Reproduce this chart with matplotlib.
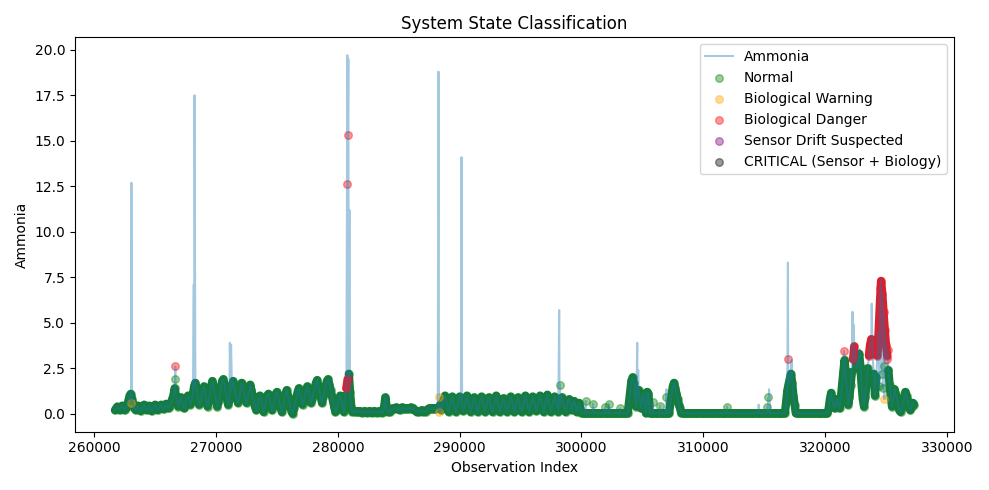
import numpy as np
import pandas as pd
import matplotlib.pyplot as plt

# ammonia readings sampled every 100 observations, starting at index 261700
base_start = 261700
base_step = 100
base_values = [
    0.2, 0.3, 0.4, 0.3, 0.2, 0.35, 0.45, 0.3, 0.2, 0.3, 0.45, 0.7, 1.0, 1.1, 0.8, 0.5, 0.3, 0.2, 0.35, 0.45,
    0.3, 0.15, 0.25, 0.4, 0.5, 0.35, 0.2, 0.3, 0.45, 0.3, 0.15, 0.25, 0.4, 0.5, 0.35, 0.2, 0.3, 0.45, 0.5, 0.35,
    0.25, 0.4, 0.55, 0.4, 0.3, 0.45, 0.6, 0.8, 1.0, 1.4, 1.0, 0.7, 0.4, 0.6, 0.9, 0.7, 0.4, 0.3, 0.6, 0.9,
    1.0, 0.7, 0.5, 0.8, 1.1, 1.5, 1.7, 1.3, 0.9, 0.5, 0.6, 0.9, 1.3, 1.5, 1.1, 0.7, 0.4, 0.7, 1.1, 1.5,
    1.8, 1.5, 1.1, 0.7, 0.4, 0.7, 1.0, 1.4, 1.8, 1.9, 1.6, 1.2, 0.8, 0.5, 0.8, 1.2, 1.5, 1.8, 1.5, 1.1,
    0.8, 0.6, 0.9, 1.3, 1.7, 1.5, 1.1, 0.8, 0.6, 0.9, 1.2, 1.6, 1.3, 1.0, 0.7, 0.4, 0.2, 0.5, 0.8, 1.0,
    0.7, 0.4, 0.1, 0.4, 0.7, 1.0, 1.1, 0.8, 0.5, 0.2, 0.5, 0.8, 1.1, 1.2, 0.9, 0.6, 0.3, 0.1, 0.4, 0.8,
    1.1, 1.3, 1.0, 0.7, 0.4, 0.1, 0.0, 0.3, 0.6, 0.9, 1.2, 1.4, 1.1, 0.8, 0.5, 0.7, 1.0, 1.3, 1.5, 1.2,
    0.9, 0.6, 0.8, 1.1, 1.4, 1.7, 1.85, 1.5, 1.2, 0.9, 0.6, 0.9, 1.2, 1.5, 1.8, 1.9, 1.6, 1.3, 1.0, 0.7,
    0.4, 0.1, 0.2, 0.5, 0.8, 1.0, 0.7, 0.4, 0.1, 1.0, 1.4, 1.9, 2.2, 1.2, 0.4, 0.1, 0.15, 0.1, 0.15, 0.1,
    0.1, 0.15, 0.1, 0.05, 0.1, 0.15, 0.1, 0.05, 0.1, 0.15, 0.1, 0.05, 0.1, 0.15, 0.1, 0.05, 0.1, 0.15, 0.1, 0.05,
    0.1, 0.4, 0.9, 0.4, 0.1, 0.15, 0.1, 0.2, 0.3, 0.25, 0.3, 0.35, 0.25, 0.3, 0.2, 0.3, 0.35, 0.25, 0.3, 0.25,
    0.3, 0.25, 0.3, 0.35, 0.25, 0.3, 0.2, 0.15, 0.1, 0.15, 0.1, 0.15, 0.2, 0.1, 0.15, 0.1, 0.2, 0.25, 0.3, 0.25,
    0.3, 0.25, 0.3, 0.25, 0.3, 0.3, 0.9, 0.5, 0.2, 0.5, 0.8, 1.0, 0.7, 0.4, 0.1, 0.4, 0.7, 0.95, 0.6, 0.3,
    0.1, 0.4, 0.7, 0.95, 0.7, 0.4, 0.15, 0.4, 0.7, 1.0, 0.7, 0.4, 0.1, 0.35, 0.65, 0.9, 0.6, 0.3, 0.1, 0.4,
    0.7, 0.95, 0.7, 0.4, 0.1, 0.4, 0.7, 0.9, 0.6, 0.3, 0.1, 0.4, 0.7, 1.0, 0.7, 0.4, 0.1, 0.35, 0.6, 0.85,
    0.6, 0.3, 0.1, 0.4, 0.7, 0.95, 0.7, 0.4, 0.1, 0.4, 0.7, 0.9, 0.6, 0.3, 0.1, 0.4, 0.7, 1.0, 0.7, 0.4,
    0.1, 0.4, 0.7, 0.95, 0.7, 0.4, 0.15, 0.4, 0.7, 1.0, 0.7, 0.4, 0.1, 0.4, 0.7, 1.05, 0.7, 0.4, 0.1, 0.4,
    0.7, 0.95, 0.7, 0.4, 0.1, 0.4, 0.7, 0.9, 0.6, 0.3, 0.1, 0.4, 0.7, 0.8, 0.5, 0.2, 0.5, 0.7, 0.4, 0.1,
    0.4, 0.6, 0.3, 0.05, 0.03, 0.03, 0.03, 0.03, 0.03, 0.03, 0.03, 0.03, 0.03, 0.03, 0.03, 0.03, 0.03, 0.03, 0.03, 0.03,
    0.03, 0.03, 0.03, 0.03, 0.03, 0.03, 0.03, 0.03, 0.03, 0.03, 0.03, 0.03, 0.03, 0.03, 0.03, 0.03, 0.03, 0.03, 0.03, 0.03,
    0.03, 0.03, 0.6, 1.2, 1.8, 2.0, 1.7, 0.9, 0.4, 0.9, 1.3, 0.7, 0.3, 0.8, 1.1, 0.5, 0.03, 1.2, 1.1, 0.03,
    0.03, 0.03, 0.03, 0.03, 0.03, 0.03, 0.03, 0.03, 0.03, 0.03, 0.03, 0.03, 0.03, 0.03, 0.03, 0.03, 0.6, 1.0, 1.5, 1.7,
    1.4, 1.1, 0.8, 0.5, 0.3, 0.03, 0.03, 0.03, 0.03, 0.03, 0.03, 0.03, 0.03, 0.03, 0.03, 0.03, 0.03, 0.03, 0.03, 0.03,
    0.03, 0.03, 0.03, 0.03, 0.03, 0.03, 0.03, 0.03, 0.03, 0.03, 0.03, 0.03, 0.03, 0.03, 0.03, 0.03, 0.03, 0.03, 0.03, 0.03,
    0.03, 0.03, 0.03, 0.03, 0.03, 0.03, 0.03, 0.03, 0.03, 0.03, 0.03, 0.03, 0.03, 0.03, 0.03, 0.03, 0.03, 0.03, 0.03, 0.03,
    0.03, 0.03, 0.03, 0.03, 0.03, 0.03, 0.03, 0.03, 0.03, 0.03, 0.03, 0.03, 0.03, 0.03, 0.03, 0.03, 0.03, 0.03, 0.03, 0.03,
    0.03, 0.03, 0.03, 0.03, 0.03, 0.03, 0.03, 0.03, 0.03, 0.03, 0.03, 0.6, 1.25, 1.6, 1.9, 2.2, 1.7, 1.0, 0.5, 0.03,
    0.03, 0.03, 0.03, 0.03, 0.03, 0.03, 0.03, 0.03, 0.03, 0.03, 0.03, 0.03, 0.03, 0.03, 0.03, 0.03, 0.03, 0.03, 0.03, 0.03,
    0.03, 0.03, 0.03, 0.03, 0.03, 0.03, 0.3, 0.8, 1.15, 0.8, 0.5, 0.3, 0.6, 0.8, 0.5, 0.3, 0.9, 1.6, 2.3, 2.95,
    2.2, 1.2, 0.5, 0.9, 1.6, 2.3, 3.0, 3.7, 3.1, 2.5, 2.9, 3.3, 2.6, 1.6, 0.8, 0.4, 0.9, 1.7, 2.5, 3.2,
    3.8, 4.1, 3.3, 2.2, 1.0, 2.0, 3.2, 4.5, 6.0, 7.3, 6.6, 5.6, 4.6, 3.8, 3.2, 2.4, 1.6, 0.9, 0.4, 0.8,
    1.35, 1.1, 0.8, 0.5, 0.2, 0.1, 0.3, 0.6, 0.9, 1.2, 1.0, 0.7, 0.4, 0.2, 0.4, 0.6, 0.5,
]
# N normal, W warning, D danger, S drift, C critical, - not classified
base_states = (
    "NNNNNNNNNNNNNNNNNNNN" "NNNNNNNNNNNNNNNNNNNN" "NNNNNNNNNNNNNNNNNNNN"
    "NNNNNNNNNNNNNNNNNNNN" "NNNNNNNNNNNNNNNNNNNN" "NNNNNNNNNNNNNNNNNNNN"
    "NNNNNNNNNNNNNNNNNNNN" "NNNNNNNNNNNNNNNNNNNN" "NNNNNNNNNNNNNNNNNNNN"
    "NNNNNNNNNNDDNNNNNNNN" "NNNNNNNNNNNNNNNNNNNN" "NNNNNNNNNNNNNNNNNNNN"
    "NNNNNNNNNNNNNNNNNNNN" "NNNNNNWNNNNNNNNNNNNN" "NNNNNNNNNNNNNNNNNNNN"
    "NNNNNNNNNNNNNNNNNNNN" "NNNNNNNNNNNNNNNNNNNN" "NNNNNNNNNNNNNNNNNNNN"
    "NNNNNNNNNNNNNNNNNNNN" "NNNNNNNNNNNNNNNNNNNN" "NNNNNNNNNNNNNNNNNNNN"
    "NNNNNNNNNNNNNNNNNNNN" "NNNNNNNNNNNNNNNNNNNN" "NNNNNNNNNNNNNNNNNNNN"
    "NNNNNNNNNNNNNNNNNNNN" "NNNNNNNNNNNNNNNNNNNN" "NNNNNNNNNNNNNNNNNNNN"
    "NNNNNNNNNNNNNNNNNNNN" "NNNNNNNNNNNNNNNNNNNN" "NNNNNNNNNNNNNNNNNNNN"
    "NNNNNNDDNNNNNNNNNNND" "DDDNNNDDDDDDDDDNNNNN" "NNNNNNNNNNNNNNNNN"
)

# spikes and lone readings between the regular samples
extra_index = [
    263020, 263050, 266630, 266650, 268170, 268230, 271130, 271230,
    280750, 280780, 280820, 280860, 280950,
    288230, 288260, 288280, 288330, 290150, 298170, 298220,
    300350, 300950, 301950, 302250, 303150, 305850, 306450, 306950, 306980,
    311950, 314550, 315250, 315350, 315400,
    316950, 316970, 317250, 321550, 322250, 322350, 322840, 323830,
    304580, 304660,
    324350, 324450, 324550, 324650, 324750, 324850, 324870, 325050, 325150,
]
extra_values = [
    0.6, 12.7, 1.9, 2.6, 7.1, 17.5, 3.9, 3.8,
    12.6, 19.7, 15.3, 19.5, 11.2,
    10.5, 18.8, 12.8, 0.12, 14.1, 5.7, 1.6,
    0.7, 0.55, 0.4, 0.55, 0.3, 0.65, 0.45, 0.95, 1.35,
    0.4, 0.5, 0.4, 0.9, 1.35,
    8.3, 3.0, 2.95, 3.45, 5.6, 4.9, 3.55, 6.05,
    3.9, 2.4,
    4.0, 1.5, 6.9, 2.2, 1.4, 2.6, 0.8, 3.0, 3.5,
]
extra_states = (
    "W-ND----"
    "D-D--"
    "---W--N"
    "NNNNNNNN-"
    "N-NN-"
    "-D-D----"
    "--"
    "DNDNNNWDD"
)

state_labels = {
    "N": "Normal",
    "W": "Biological Warning",
    "D": "Biological Danger",
    "S": "Sensor Drift Suspected",
    "C": "CRITICAL (Sensor + Biology)",
}
state_colors = {"N": "green", "W": "orange", "D": "red", "S": "purple", "C": "black"}
# colour of the densely overlapped marker cloud along the regular readings
cloud_colors = {"N": "#147c3c", "D": "#d8202e"}

base = pd.DataFrame({
    "idx": np.arange(len(base_values)) * base_step + base_start,
    "Ammonia": base_values,
    "state": list(base_states),
})
extra = pd.DataFrame({"idx": extra_index, "Ammonia": extra_values,
                      "state": list(extra_states)})
df = pd.concat([base, extra]).sort_values("idx", kind="stable")

plt.figure(figsize=(9.89, 4.9), dpi=100)
plt.plot(df["idx"], df["Ammonia"], alpha=0.4, label="Ammonia", zorder=3)

z = 1.0
for code, name in state_labels.items():
    sub = df[df["state"] == code]
    plt.scatter(sub["idx"], sub["Ammonia"], color=state_colors[code],
                s=30, alpha=0.4, label=name, zorder=z)
    # thousands of raw points overlap into a solid ribbon along the readings
    if code in cloud_colors:
        v = base["Ammonia"].where(base["state"] == code)
        lo = v.rolling(3, center=True, min_periods=1).min()
        hi = v.rolling(3, center=True, min_periods=1).max()
        plt.fill_between(base["idx"], lo, hi, where=lo.notna(),
                         color=cloud_colors[code], linewidth=0, zorder=z + 0.1)
        plt.plot(base["idx"], v, color=cloud_colors[code], lw=6,
                 solid_joinstyle="round", solid_capstyle="round", zorder=z + 0.1)
    z += 0.2

plt.title("System State Classification")
plt.xlabel("Observation Index")
plt.ylabel("Ammonia")
plt.legend(loc="upper right")
plt.tight_layout()
plt.savefig("out.png")
